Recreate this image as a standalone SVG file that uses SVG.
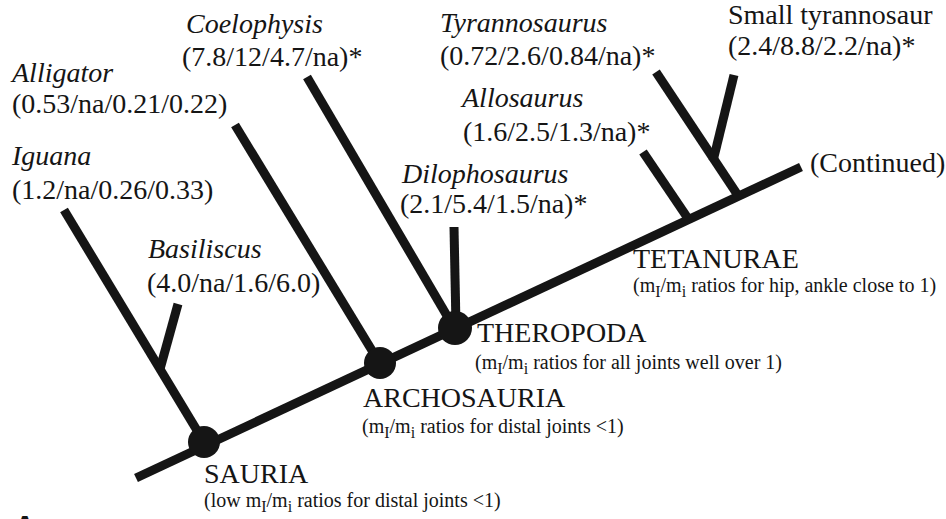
<svg xmlns="http://www.w3.org/2000/svg" width="946" height="519" viewBox="0 0 946 519">
<style>
text{font-family:"Liberation Serif","Times New Roman",serif;fill:#151515}
.sp{font-size:28px;font-style:italic}
.v{font-size:28px}
.cl{font-size:28px}
.sm{font-size:20px}
.sub{font-size:16px}
.br{stroke:#151515;stroke-width:9;fill:none;stroke-linecap:butt}
.dot{fill:#151515}
</style>
<g id="connectors">
<line class="br" x1="136" y1="478" x2="801" y2="167"/>
<line class="br" x1="64" y1="210" x2="204" y2="442"/>
<line class="br" x1="178" y1="304" x2="160" y2="369"/>
<line class="br" x1="235" y1="125" x2="379" y2="362"/>
<line class="br" x1="307" y1="77" x2="453" y2="326"/>
<line class="br" x1="454" y1="227" x2="456" y2="326"/>
<line class="br" x1="643" y1="152" x2="687" y2="217"/>
<line class="br" x1="656" y1="72" x2="737" y2="194"/>
<line class="br" x1="734" y1="75" x2="713" y2="161"/>
</g>
<g id="sauria">
<circle class="dot" cx="204" cy="442" r="16"/>
<text class="cl" x="204" y="483">SAURIA</text>
<text class="sm" x="204" y="507">(low m<tspan class="sub" dy="5">I</tspan><tspan dy="-5">/m</tspan><tspan class="sub" dy="5">i</tspan><tspan dy="-5"> ratios for distal joints &lt;1)</tspan></text>
</g>
<g id="archosauria">
<circle class="dot" cx="380" cy="363" r="16"/>
<text class="cl" x="363" y="407">ARCHOSAURIA</text>
<text class="sm" x="362" y="433">(m<tspan class="sub" dy="5">I</tspan><tspan dy="-5">/m</tspan><tspan class="sub" dy="5">i</tspan><tspan dy="-5"> ratios for distal joints &lt;1)</tspan></text>
</g>
<g id="theropoda">
<circle class="dot" cx="455" cy="328" r="17"/>
<text class="cl" x="477" y="342">THEROPODA</text>
<text class="sm" x="475" y="369">(m<tspan class="sub" dy="5">I</tspan><tspan dy="-5">/m</tspan><tspan class="sub" dy="5">i</tspan><tspan dy="-5"> ratios for all joints well over 1)</tspan></text>
</g>
<g id="tetanurae">
<text class="cl" x="633" y="268">TETANURAE</text>
<text class="sm" x="633" y="292">(m<tspan class="sub" dy="5">I</tspan><tspan dy="-5">/m</tspan><tspan class="sub" dy="5">i</tspan><tspan dy="-5"> ratios for hip, ankle close to 1)</tspan></text>
</g>
<g id="iguana">
<text class="sp" x="12" y="165">Iguana</text>
<text class="v" x="12" y="199">(1.2/na/0.26/0.33)</text>
</g>
<g id="basiliscus">
<text class="sp" x="148" y="258">Basiliscus</text>
<text class="v" x="147" y="292">(4.0/na/1.6/6.0)</text>
</g>
<g id="alligator">
<text class="sp" x="12" y="82">Alligator</text>
<text class="v" x="12" y="113">(0.53/na/0.21/0.22)</text>
</g>
<g id="coelophysis">
<text class="sp" x="186" y="33">Coelophysis</text>
<text class="v" x="182" y="66">(7.8/12/4.7/na)*</text>
</g>
<g id="dilophosaurus">
<text class="sp" x="402" y="183">Dilophosaurus</text>
<text class="v" x="400" y="213">(2.1/5.4/1.5/na)*</text>
</g>
<g id="allosaurus">
<text class="sp" x="462" y="107">Allosaurus</text>
<text class="v" x="463" y="141">(1.6/2.5/1.3/na)*</text>
</g>
<g id="tyrannosaurus">
<text class="sp" x="440" y="32">Tyrannosaurus</text>
<text class="v" x="440" y="65">(0.72/2.6/0.84/na)*</text>
</g>
<g id="small-tyrannosaur">
<text class="v" x="728" y="24">Small tyrannosaur</text>
<text class="v" x="728" y="55">(2.4/8.8/2.2/na)*</text>
</g>
<g id="continued">
<text class="v" x="810" y="172">(Continued)</text>
</g>
<text x="14" y="536" style="font-family:'Liberation Sans',Arial,sans-serif;font-size:30px;font-weight:bold">A</text>
</svg>
